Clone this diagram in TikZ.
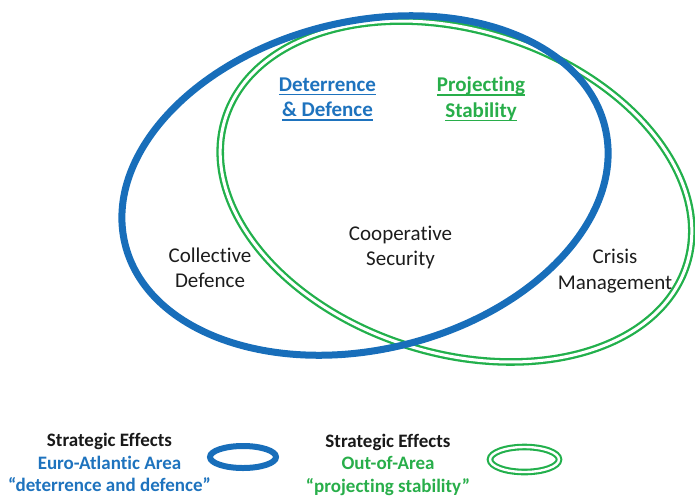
\documentclass[tikz,border=0pt]{standalone}
\usepackage{fontspec}
\setmainfont[Ligatures={NoCommon}]{Carlito}
\newsavebox\myulbox
\newcommand\myul[1]{\sbox\myulbox{#1}\rlap{\rule[-3.9pt]{\wd\myulbox}{1.3pt}}\usebox\myulbox}
\definecolor{eblue}{RGB}{24,110,186}
\definecolor{tblue}{RGB}{30,115,190}
\definecolor{egreen}{RGB}{34,176,76}
\definecolor{tgreen}{RGB}{40,174,74}
\definecolor{labblack}{RGB}{28,28,28}
\definecolor{legblack}{RGB}{25,25,25}
\tikzset{
  lab/.style={align=center, inner sep=0pt, font=\fontsize{21}{25.5}\selectfont, text=labblack},
  tit/.style={align=center, inner sep=0pt, font=\fontsize{21}{25.5}\selectfont\bfseries},
  leg/.style={align=center, inner sep=0pt, font=\fontsize{19}{22.5}\selectfont\bfseries},
  bluering/.style={draw=eblue, line width=7pt},
  greenring/.style={draw=egreen, double=white, double distance=3pt, line width=2.3pt},
  bluemini/.style={draw=eblue, line width=6pt},
  greenmini/.style={draw=egreen, double=white, double distance=2.4pt, line width=2.1pt},
}
\begin{document}
\begin{tikzpicture}[x=1pt,y=1pt]
\useasboundingbox (0,0) rectangle (695,-498);
% main rings
\draw[greenring, rotate around={-17.6:(456,-191.5)}] (456,-191.5) ellipse [x radius=242pt, y radius=161.5pt];
\draw[bluering, rotate around={13.7:(365,-185.5)}] (365,-185.5) ellipse [x radius=247pt, y radius=164pt];
% titles
\node[tit, text=tblue] (dd) at (327.5,-99) {\myul{Deterrence}\\\myul{\& Defence}};
\node[tit, text=tgreen] (ps) at (481,-99) {\myul{Projecting}\\\myul{Stability}};
% area labels
\node[lab] (cd) at (210,-268) {Collective\\Defence};
\node[lab] (cs) at (400.5,-247.5) {Cooperative\\Security};
\node[lab] (cm) at (615,-271) {Crisis\\Management};
% legend
\node[leg] (l1) at (109.5,-462.5) {\textcolor{legblack}{Strategic Effects}\\\textcolor{tblue}{Euro-Atlantic Area}\\\textcolor{tblue}{“deterrence and defence”}};
\draw[bluemini] (243,-457) ellipse [x radius=33pt, y radius=11pt];
\node[leg] (l2) at (388,-464.5) {\textcolor{legblack}{Strategic Effects}\\\textcolor{tgreen}{Out-of-Area}\\\textcolor{tgreen}{“projecting stability”}};
\draw[greenmini] (524.5,-459.5) ellipse [x radius=34.5pt, y radius=12.5pt];
\end{tikzpicture}
\end{document}
